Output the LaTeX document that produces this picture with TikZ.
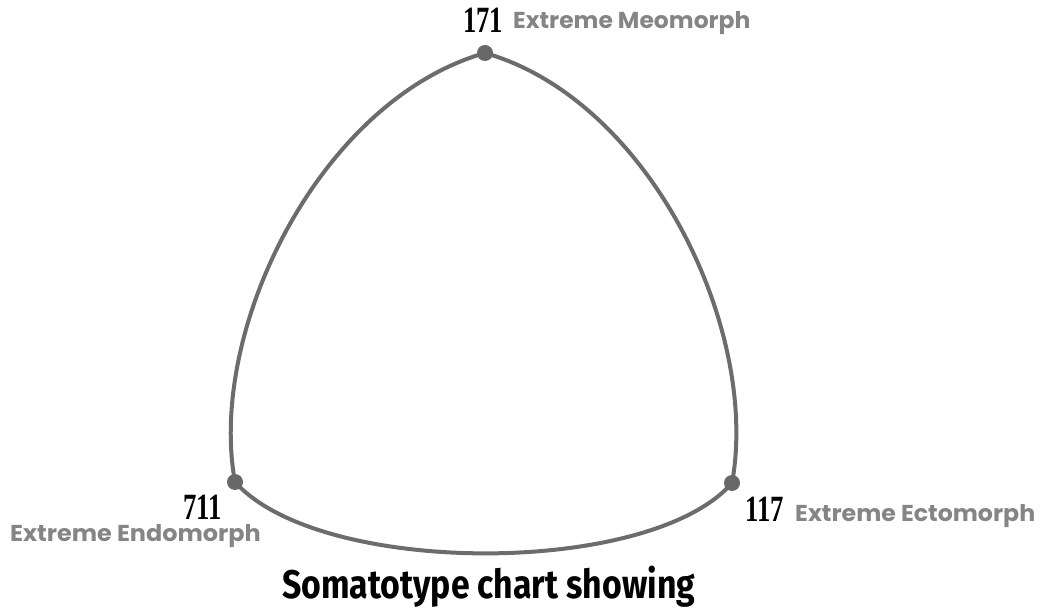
\documentclass[tikz,border=0pt]{standalone}
\usepackage{fontspec}
\setmainfont{Liberation Sans}
\newfontfamily\lblfont{Poppins}
\newfontfamily\numfont{Liberation Serif}
\newfontfamily\capfont{Fira Sans}
\definecolor{curvegray}{HTML}{6C6C6C}
\definecolor{dotgray}{HTML}{686868}
\definecolor{lblgray}{HTML}{858585}
\tikzset{
  lbl/.style={anchor=base west, inner sep=0pt, text=lblgray, font=\lblfont\bfseries\fontsize{23}{27}\selectfont},
  num/.style={anchor=base west, inner sep=0pt, text=black, font=\numfont\bfseries\fontsize{37}{40}\selectfont},
  vdot/.style={circle, fill=dotgray, inner sep=0pt, minimum size=16pt},
  side/.style={draw=curvegray, line width=4pt}
}
\begin{document}
\begin{tikzpicture}[x=1pt,y=-1pt]
\useasboundingbox (0,0) rectangle (1041,609);
\fill[white] (0,0) rectangle (1041,609);
\coordinate (T) at (485,53);
\coordinate (L) at (235,482);
\coordinate (R) at (732,483);
\draw[side] (T) .. controls (650,100) and (760,330) .. (R);
\draw[side] (T) .. controls (320,100) and (207,330) .. (L);
\draw[side] (L) .. controls (320,577) and (650,577) .. (R);
\node[vdot] (dT) at (T) {};
\node[vdot] (dL) at (L) {};
\node[vdot] (dR) at (R) {};
\node[num] (nT) at (463,33) {\scalebox{0.72}[1]{171}};
\node[lbl] (lT) at (513,29) {\scalebox{1.02}[1]{Extreme Meomorph}};
\node[num] (nL) at (183,519) {\scalebox{0.72}[1]{711}};
\node[lbl] (lL) at (10,541) {\scalebox{1.04}[1]{Extreme Endomorph}};
\node[num] (nR) at (745,521) {\scalebox{0.72}[1]{117}};
\node[lbl] (lR) at (795,521) {\scalebox{1.03}[1]{Extreme Ectomorph}};
\node[anchor=base west, inner sep=0pt, font=\capfont\bfseries\fontsize{40}{44}\selectfont] (cap) at (282,598) {\scalebox{0.845}[1]{Somatotype chart showing}};
\end{tikzpicture}
\end{document}
